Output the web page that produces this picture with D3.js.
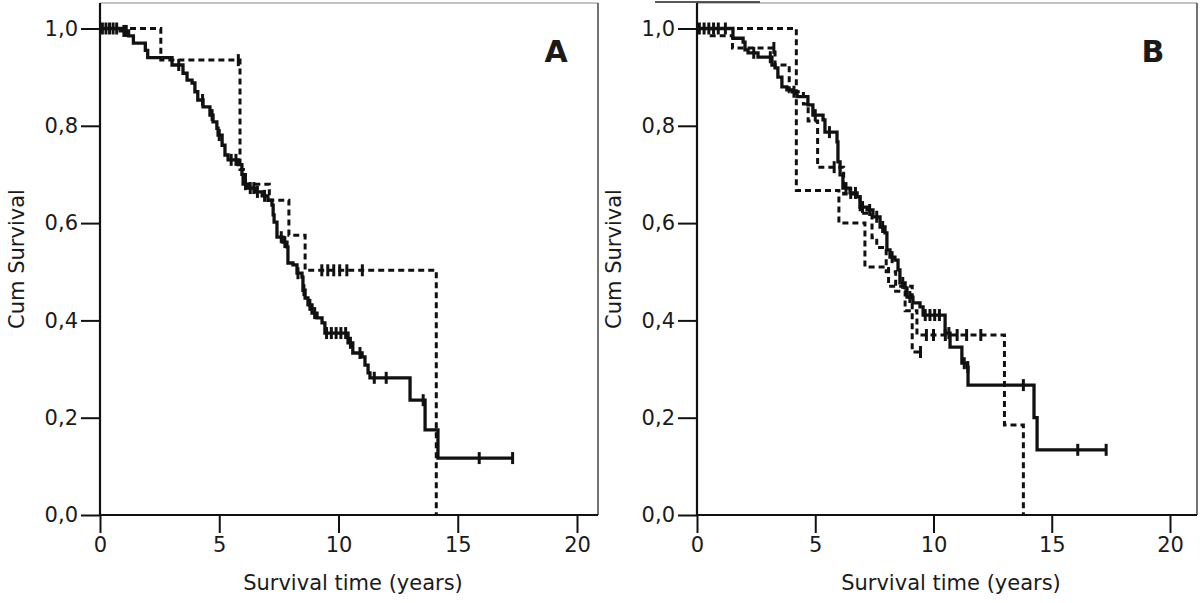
<!DOCTYPE html>
<html>
<head>
<meta charset="utf-8">
<script src="https://cdn.jsdelivr.net/npm/d3@7"></script>
<style>
  html, body { margin: 0; padding: 0; background: #fff; }
  svg text { font-family: "DejaVu Sans", Verdana, sans-serif; fill: #1a1a1a; }
</style>
</head>
<body>
<svg id="chart" width="1200" height="603"></svg>
<script>
// ---------- data ----------
const xTicks = [0, 5, 10, 15, 20];
const yTicks = [0, 0.2, 0.4, 0.6, 0.8, 1.0];
const yTickLabels = ["0,0", "0,2", "0,4", "0,6", "0,8", "1,0"];
const panelLabels = ["A", "B"];

// Panel A – solid group
const aSolidTimes = [0.85,1.2,1.4,1.9,2.0,3.02,3.48,3.65,3.86,3.98,4.1,4.32,4.61,4.74,4.9,4.95,5.12,5.24,5.37,5.79,5.95,6.0,6.2,6.5,6.8,7.04,7.21,7.26,7.3,7.42,7.67,7.84,7.88,8.09,8.26,8.47,8.51,8.6,8.72,8.89,9.1,9.31,9.43,10.4,10.6,10.99,11.11,11.24,11.32,13.0,13.63,14.17];
const aSolidSurv  = [0.995,0.985,0.97,0.955,0.94,0.925,0.908,0.894,0.888,0.87,0.853,0.839,0.822,0.808,0.795,0.781,0.76,0.74,0.73,0.72,0.70,0.68,0.672,0.664,0.656,0.647,0.637,0.617,0.602,0.571,0.561,0.551,0.518,0.514,0.497,0.489,0.462,0.446,0.432,0.415,0.405,0.395,0.374,0.354,0.333,0.325,0.308,0.292,0.282,0.236,0.175,0.117];
const aSolidEnd = 17.3;
const aSolidCensor = [0.1,0.25,0.4,0.55,0.7,1.0,1.1,3.3,4.3,4.7,5.0,5.5,5.7,6.1,6.3,6.45,6.6,6.9,7.6,7.75,8.3,8.55,8.8,9.0,9.5,9.7,9.9,10.1,10.3,10.5,10.9,11.5,12.0,13.55,15.9,17.3];

// Panel A – dashed group
const aDashTimes = [2.55,5.87,6.1,7.1,7.92,8.6,14.1];
const aDashSurv  = [0.935,0.71,0.68,0.647,0.575,0.503,0];
const aDashEnd = 14.1;
const aDashCensor = [5.8,9.3,9.55,9.8,10.05,10.35,11.0];

// Panel B – solid group
const bSolidTimes = [1.52,1.95,2.03,2.16,2.58,3.17,3.3,3.42,3.59,3.8,4.02,4.23,4.69,4.9,5.33,5.41,5.92,5.96,6.05,6.17,6.47,6.77,6.89,7.19,7.44,7.74,7.95,8.03,8.16,8.37,8.5,8.58,8.8,8.88,9.13,9.43,9.56,10.49,10.7,11.2,11.42,11.46,14.25,14.38];
const bSolidSurv  = [0.98,0.972,0.956,0.95,0.941,0.925,0.919,0.9,0.88,0.874,0.87,0.86,0.843,0.822,0.812,0.787,0.767,0.726,0.699,0.672,0.662,0.654,0.633,0.627,0.613,0.592,0.58,0.545,0.53,0.524,0.504,0.477,0.467,0.448,0.436,0.428,0.411,0.374,0.345,0.312,0.304,0.267,0.2,0.134];
const bSolidEnd = 17.3;
const bSolidCensor = [0.1,0.3,0.5,0.7,0.9,1.2,2.4,3.1,4.1,5.0,5.6,6.3,6.5,6.7,7.0,7.3,7.6,7.85,8.25,8.7,9.0,9.65,9.85,10.05,10.25,10.65,11.3,11.45,13.8,16.1,17.3];

// Panel B – dashed group 1 (small)
const bDash1Times = [4.2,6.0,7.1,8.1,9.1];
const bDash1Surv  = [0.667,0.6,0.51,0.47,0.335];
const bDash1End = 9.45;
const bDash1Censor = [9.45];

// Panel B – dashed group 2
const bDash2Times = [0.6,1.5,3.3,3.9,4.5,4.7,5.1,6.2,6.9,7.4,7.6,8.0,8.4,8.8,9.3,13.0,13.8];
const bDash2Surv  = [0.985,0.96,0.925,0.87,0.845,0.81,0.715,0.66,0.62,0.57,0.55,0.50,0.46,0.42,0.37,0.185,0];
const bDash2End = 13.8;
const bDash2Censor = [3.25,5.8,9.7,10.0,10.5,11.0,11.4,12.0];

// ---------- drawing ----------
const svg = d3.select("#chart");
svg.append("rect").attr("width", 1200).attr("height", 603).attr("fill", "#fff");

const panels = [
  { x0: 100, x20: 577, right: 598, label: panelLabels[0],
    groups: [
      { t: aDashTimes, s: aDashSurv, end: aDashEnd, c: aDashCensor, dash: true },
      { t: aSolidTimes, s: aSolidSurv, end: aSolidEnd, c: aSolidCensor, dash: false }
    ] },
  { x0: 697, x20: 1170, right: 1197, label: panelLabels[1],
    groups: [
      { t: bDash1Times, s: bDash1Surv, end: bDash1End, c: bDash1Censor, dash: true },
      { t: bDash2Times, s: bDash2Surv, end: bDash2End, c: bDash2Censor, dash: true },
      { t: bSolidTimes, s: bSolidSurv, end: bSolidEnd, c: bSolidCensor, dash: false }
    ] }
];

const yTop = 28.5, yBottom = 515, frameTop = 3;
const y = d3.scaleLinear().domain([0, 1]).range([yBottom, yTop]);

function survAt(g, t) {
  let s = 1;
  for (let i = 0; i < g.t.length; i++) { if (g.t[i] <= t) s = g.s[i]; }
  return s;
}

panels.forEach(p => {
  const x = d3.scaleLinear().domain([0, 20]).range([p.x0, p.x20]);
  const g = svg.append("g");

  // frame (top & right, thin grey)
  g.append("line").attr("x1", p.x0).attr("x2", p.right).attr("y1", frameTop).attr("y2", frameTop)
    .attr("stroke", "#888").attr("stroke-width", 1.2);
  g.append("line").attr("x1", p.right).attr("x2", p.right).attr("y1", frameTop).attr("y2", yBottom)
    .attr("stroke", "#444").attr("stroke-width", 1.5);

  // x axis
  const xAxis = d3.axisBottom(x).tickValues(xTicks).tickSize(18).tickPadding(4).tickFormat(d3.format("d"));
  const gx = g.append("g").attr("transform", `translate(0,${yBottom})`).call(xAxis);
  gx.select(".domain").attr("d", `M${p.x0},0H${p.right}`).attr("stroke", "#111").attr("stroke-width", 2.2);
  gx.selectAll(".tick line").attr("stroke", "#111").attr("stroke-width", 2);
  gx.selectAll(".tick text").attr("font-size", 21).attr("fill", "#1a1a1a")
    .style("font-family", "DejaVu Sans, Verdana, sans-serif");

  // y axis
  const yAxis = d3.axisLeft(y).tickValues(yTicks).tickSize(19).tickPadding(3)
    .tickFormat((d, i) => yTickLabels[i]);
  const gy = g.append("g").attr("transform", `translate(${p.x0},0)`).call(yAxis);
  gy.select(".domain").attr("d", `M0,${frameTop}V${yBottom}`).attr("stroke", "#111").attr("stroke-width", 2.2);
  gy.selectAll(".tick line").attr("stroke", "#111").attr("stroke-width", 2);
  gy.selectAll(".tick text").attr("font-size", 21).attr("fill", "#1a1a1a")
    .style("font-family", "DejaVu Sans, Verdana, sans-serif");

  // axis titles
  g.append("text").attr("x", (p.x0 + p.right) / 2 + 4).attr("y", 590)
    .attr("text-anchor", "middle").attr("font-size", 21).text("Survival time (years)");
  g.append("text").attr("transform", `translate(${p.x0 - 76},${(frameTop + yBottom) / 2}) rotate(-90)`)
    .attr("text-anchor", "middle").attr("font-size", 21).text("Cum Survival");

  // panel letter
  g.append("text").attr("x", p.x0 + 456).attr("y", 62).attr("text-anchor", "middle")
    .attr("font-size", 30).attr("font-weight", "bold").text(p.label);

  // curves
  const line = d3.line().x(d => x(d[0])).y(d => y(d[1])).curve(d3.curveStepAfter);
  p.groups.forEach(grp => {
    const pts = [[0, 1]];
    grp.t.forEach((t, i) => pts.push([t, grp.s[i]]));
    pts.push([grp.end, grp.s[grp.s.length - 1]]);
    g.append("path").datum(pts).attr("d", line).attr("fill", "none")
      .attr("stroke", "#111").attr("stroke-width", grp.dash ? 3 : 3.3)
      .attr("stroke-dasharray", grp.dash ? "6,4" : null);
    g.selectAll(null).data(grp.c).enter().append("line")
      .attr("x1", d => x(d)).attr("x2", d => x(d))
      .attr("y1", d => y(survAt(grp, d)) - 6).attr("y2", d => y(survAt(grp, d)) + 6)
      .attr("stroke", "#111").attr("stroke-width", 3);
  });
});

// small dark stroke at the very top of panel B (as in the source image)
svg.append("line").attr("x1", 655).attr("x2", 760).attr("y1", 2).attr("y2", 2)
  .attr("stroke", "#222").attr("stroke-width", 1.5);
</script>
</body>
</html>
